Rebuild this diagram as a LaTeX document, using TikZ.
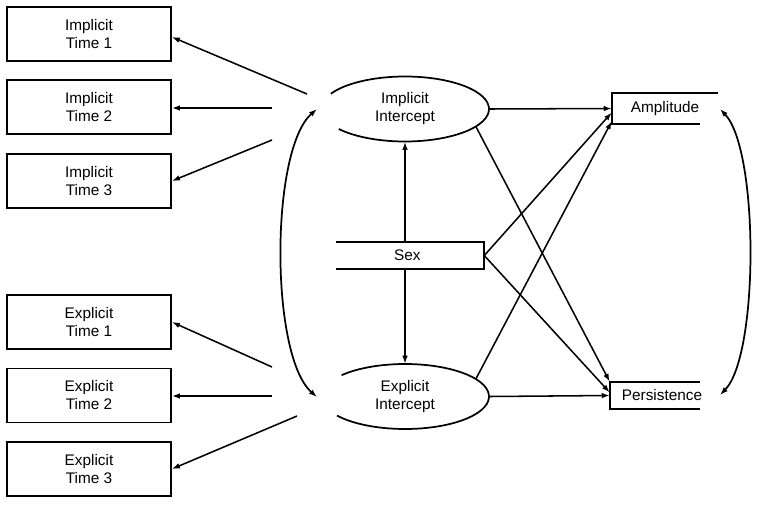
\documentclass[tikz,border=0pt]{standalone}
\usepackage{fontspec}
\setmainfont{Liberation Sans}
\usetikzlibrary{shapes.geometric,arrows.meta,calc}
\begin{document}
\begin{tikzpicture}[x=0.75pt,y=-0.75pt,
 font=\fontsize{11.5}{13.5}\selectfont,
 obs/.style={draw,line width=1.3pt,minimum width=123pt,minimum height=40.5pt,align=center,inner sep=0pt},
 lat/.style={ellipse,minimum width=126pt,minimum height=48.75pt,inner sep=0pt,align=center},
 bare/.style={rectangle,inner sep=0pt,align=center},
 arr/.style={-{Latex[length=6pt,width=4.2pt]},line width=1.15pt},
 dbl/.style={{Latex[length=6pt,width=4.2pt]}-{Latex[length=6pt,width=4.2pt]},line width=1.3pt},
 edge/.style={line width=1.3pt}]
\useasboundingbox (0,0) rectangle (762,504);
% observed boxes
\node[obs] (it1) at (89,34) {Implicit\\Time 1};
\node[obs] (it2) at (89,107) {Implicit\\Time 2};
\node[obs] (it3) at (89,181) {Implicit\\Time 3};
\node[obs] (et1) at (89,322) {Explicit\\Time 1};
\node[obs] (et2) at (89,395.5) {Explicit\\Time 2};
\node[obs] (et3) at (89,469) {Explicit\\Time 3};
% latent ellipses
\node[lat] (ii) at (405,109) {Implicit\\Intercept};
\node[lat] (ei) at (405,396.5) {Explicit\\Intercept};
\draw[edge] (ii.center) ++(-152:84 and 32.5) arc[start angle=-152,end angle=142,x radius=84,y radius=32.5];
\draw[edge] (ei.center) ++(-139:84 and 32.5) arc[start angle=-139,end angle=144,x radius=84,y radius=32.5];
% sex
\node[bare,minimum width=111pt,minimum height=20.25pt] (sex) at (410,255.5) {\hspace*{-4pt}Sex};
\draw[edge] (sex.north west) -- (sex.north east) -- (sex.south east) -- (sex.south west);
% outcomes
\node[bare,minimum width=79.5pt,minimum height=23.25pt] (amp) at (665,108.5) {Amplitude};
\draw[edge] (amp.north east) -- (amp.north west) -- (amp.south west) -- ($(amp.south west)+(88,0)$);
\node[bare,minimum width=78pt,minimum height=20.25pt] (per) at (662,395.5) {Persistence};
\draw[edge] ($(per.north west)+(90,0)$) -- (per.north west) -- (per.south west) -- ($(per.south west)+(90,0)$);
% tails of loadings
\coordinate (a1) at (307,94);
\coordinate (a2) at (272,108);
\coordinate (a3) at (272,140);
\coordinate (b1) at (272,367);
\coordinate (b2) at (272,396);
\coordinate (b3) at (297,416);
\draw[arr] (a1) -- ($(it1.east)+(0,3)$);
\draw[arr] (a2) -- (it2.east |- a2);
\draw[arr] (a3) -- (it3.east);
\draw[arr] (b1) -- (et1.east);
\draw[arr] (b2) -- (et2.east |- b2);
\draw[arr] (b3) -- (et3.east);
% covariance arcs
\coordinate (lt) at (317,109);
\coordinate (lb) at (317,397);
\draw[dbl] (lt) .. controls (270,150) and (270,356) .. (lb);
\coordinate (rt) at (720,109);
\coordinate (rb) at (720,395);
\draw[dbl] (rt) .. controls (759,150) and (759,355) .. (rb);
% structural paths
\draw[arr] (sex.north -| ii.south) -- (ii.south);
\draw[arr] (sex.south -| ei.north) -- (ei.north);
\draw[arr] (ii.east) -- (amp.west);
\draw[arr] (ii.-14) -- (per.north west);
\draw[arr] (sex.east) -- ($(amp.west)+(0,4)$);
\draw[arr] (sex.east) -- ($(per.west)+(0,-3)$);
\draw[arr] (ei.14) -- ($(amp.south west)+(0,-3)$);
\draw[arr] (ei.east) -- (per.west);
\end{tikzpicture}
\end{document}
